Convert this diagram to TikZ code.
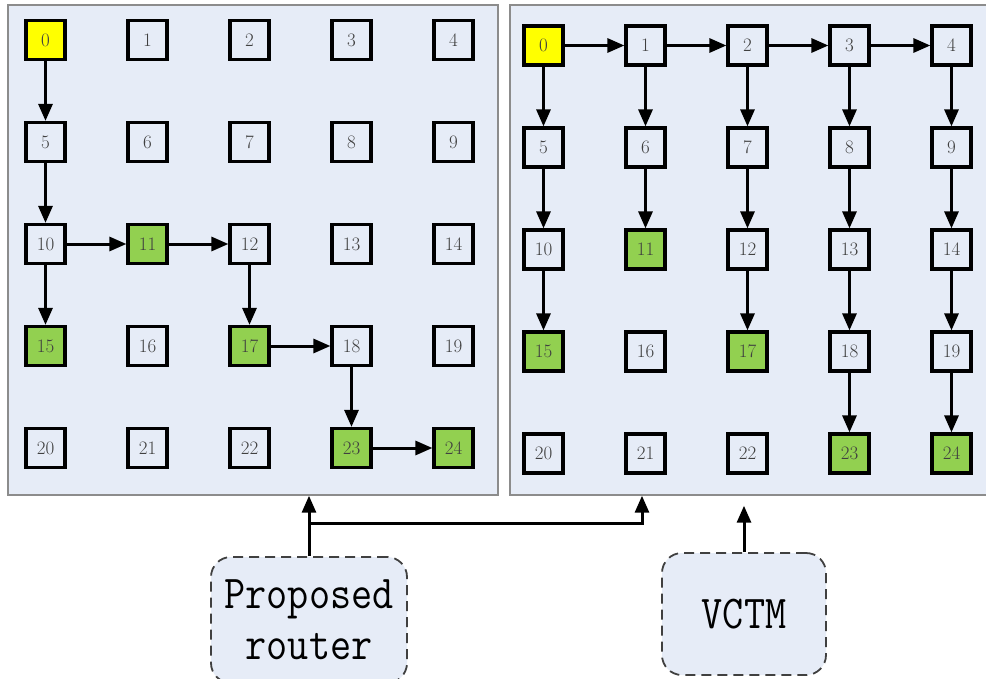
\documentclass[tikz,border=0pt]{standalone}
\usepackage{fontspec}
\usepackage{graphicx}
\usetikzlibrary{arrows.meta,positioning,calc}
\definecolor{panel}{HTML}{E6ECF7}
\definecolor{hit}{HTML}{92D050}
\definecolor{src}{HTML}{FFFF00}
\definecolor{frame}{HTML}{8C8C8C}
\definecolor{ink}{HTML}{404040}
\newcommand{\tallword}[1]{\scalebox{1}[1.15]{#1}}

\begin{document}
\begin{tikzpicture}[x=1pt,y=-1pt,
  board/.style={draw=frame,line width=1.4pt,fill=panel,inner sep=0pt,minimum width=#1,minimum height=490pt},
  cell/.style={draw=black,line width=3.2pt,fill=panel,minimum size=39pt,inner sep=0pt,text=ink,font=\fontsize{19}{19}\selectfont},
  c0/.style={fill=src},
  c11/.style={fill=hit},c15/.style={fill=hit},c17/.style={fill=hit},
  c23/.style={fill=hit},c24/.style={fill=hit},
  hop/.style={line width=3pt,-{Triangle[length=17pt,width=14pt]}},
  tag/.style={draw=ink,dash pattern=on 10pt off 6pt,line width=1.8pt,fill=panel,rounded corners=20pt,align=center,font=\fontsize{41}{51}\selectfont\ttfamily,text=black}]
  \useasboundingbox (0,0) rectangle (986,678);
  \fill[white] (0,0) rectangle (986,678);

  % Panels
  \node[board=490pt] (lp) at (253,250) {};
  \node[board=480pt] (rp) at (750,250) {};

  % Grids
  \foreach \n in {0,...,24}{
    \pgfmathtruncatemacro{\gcol}{mod(\n,5)}
    \pgfmathtruncatemacro{\grow}{div(\n,5)}
    \node[cell,c\n/.try] (l\n) at ({45.5+102*\gcol},{40+102*\grow}) {\n};
    \node[cell,c\n/.try] (r\n) at ({543.5+102*\gcol},{45.5+102*\grow}) {\n};
  }

  % Proposed router path
  \foreach \a/\b in {0/5,5/10,10/11,11/12,10/15,12/17,17/18,18/23,23/24}
    \draw[hop] (l\a) -- (l\b);

  % VCTM tree
  \foreach \a/\b in {0/1,1/2,2/3,3/4,0/5,5/10,10/15,1/6,6/11,2/7,7/12,12/17,
                     3/8,8/13,13/18,18/23,4/9,9/14,14/19,19/24}
    \draw[hop] (r\a) -- (r\b);

  % Labels
  \node[tag,minimum width=196pt,minimum height=126pt] (pr) at (309,620)
    {\tallword{Proposed}\\\tallword{router}};
  \node[tag,minimum width=164pt,minimum height=122pt] (vc) at (744,614)
    {\tallword{VCTM}};

  \coordinate (fork) at (642,523);
  \draw[hop] (pr.north) -- (pr.north |- lp.south);
  \draw[hop] (pr.north |- fork) -- (fork) -- (fork |- rp.south);
  \draw[hop,shorten >=10pt] (vc.north) -- (vc.north |- rp.south);
\end{tikzpicture}
\end{document}
